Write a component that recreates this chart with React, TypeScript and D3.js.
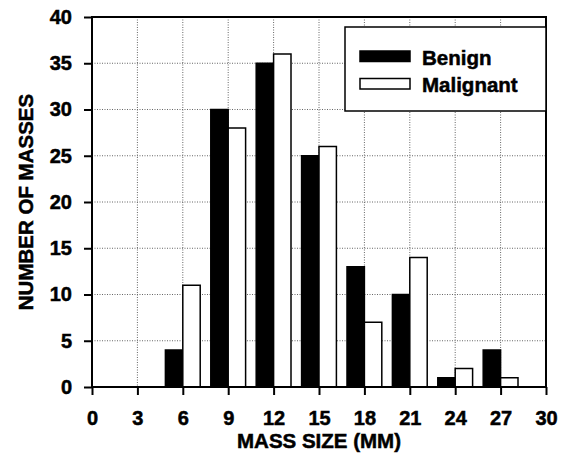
import React, { useEffect, useRef } from "react";
import * as d3 from "d3";

const sizes = [3, 6, 9, 12, 15, 18, 21, 24, 27];
const benign = [0, 4, 30, 35, 25, 13, 10, 1, 4];
const malignant = [0, 11, 28, 36, 26, 7, 14, 2, 1];
const xTicks = [0, 3, 6, 9, 12, 15, 18, 21, 24, 27, 30];
const yTicks = [0, 5, 10, 15, 20, 25, 30, 35, 40];
const seriesNames = ["Benign", "Malignant"];

const FONT = "'Liberation Sans', Arial, Helvetica, sans-serif";

const App = () => {
  const ref = useRef<SVGSVGElement | null>(null);

  useEffect(() => {
    const svg = d3.select(ref.current);
    svg.selectAll("*").remove();

    const left = 92, right = 546, top = 17, bottom = 387;
    const x = d3.scaleLinear().domain([0, 30]).range([left, right]);
    const y = d3.scaleLinear().domain([0, 40]).range([bottom, top]);
    const bw = x(1.15) - x(0);

    // helper for the heavy bold labels
    const bold = (sel: any, size: number) =>
      sel
        .attr("font-family", FONT)
        .attr("font-weight", "bold")
        .attr("font-size", size)
        .attr("fill", "#000")
        .attr("stroke", "#000")
        .attr("stroke-width", 0.5);

    // grid
    const grid = svg.append("g")
      .attr("stroke", "#666")
      .attr("stroke-width", 1)
      .attr("stroke-dasharray", "1,1.5");
    grid.selectAll("line.v")
      .data(xTicks.filter((d) => d > 0 && d < 30))
      .enter().append("line")
      .attr("x1", (d) => x(d)).attr("x2", (d) => x(d))
      .attr("y1", top).attr("y2", bottom);
    grid.selectAll("line.h")
      .data(yTicks.filter((d) => d > 0 && d < 40))
      .enter().append("line")
      .attr("x1", left).attr("x2", right)
      .attr("y1", (d) => y(d)).attr("y2", (d) => y(d));

    // bars
    const bars = svg.append("g").attr("stroke", "#000").attr("stroke-width", 1.5);
    bars.selectAll("rect.b")
      .data(sizes.map((s, i) => ({ s, v: benign[i] })))
      .enter().append("rect")
      .attr("x", (d) => x(d.s) - bw)
      .attr("y", (d) => y(d.v))
      .attr("width", bw)
      .attr("height", (d) => y(0) - y(d.v))
      .attr("fill", "#000");
    bars.selectAll("rect.m")
      .data(sizes.map((s, i) => ({ s, v: malignant[i] })))
      .enter().append("rect")
      .attr("x", (d) => x(d.s))
      .attr("y", (d) => y(d.v))
      .attr("width", bw)
      .attr("height", (d) => y(0) - y(d.v))
      .attr("fill", "#fff");

    // frame
    svg.append("rect")
      .attr("x", left).attr("y", top)
      .attr("width", right - left).attr("height", bottom - top)
      .attr("fill", "none").attr("stroke", "#000").attr("stroke-width", 2);

    // axes
    const yAxis = svg.append("g")
      .attr("transform", `translate(${left},0)`)
      .call(d3.axisLeft(y).tickValues(yTicks).tickSize(8).tickPadding(12));
    const xAxis = svg.append("g")
      .attr("transform", `translate(0,${bottom})`)
      .call(d3.axisBottom(x).tickValues(xTicks).tickSize(8).tickPadding(17));
    [yAxis, xAxis].forEach((a) => {
      a.select(".domain").remove();
      a.selectAll("line").attr("stroke", "#000").attr("stroke-width", 2);
      bold(a.selectAll("text"), 20);
    });
    xAxis.selectAll("text").attr("dy", null).attr("y", 37.5);

    // axis titles
    bold(svg.append("text"), 20.5)
      .attr("x", (left + right) / 2)
      .attr("y", 447.5)
      .attr("text-anchor", "middle")
      .text("MASS SIZE (MM)");
    bold(svg.append("text"), 20.5)
      .attr("transform", `translate(33,${(top + bottom) / 2}) rotate(-90)`)
      .attr("text-anchor", "middle")
      .text("NUMBER OF MASSES");

    // legend
    const lg = svg.append("g");
    lg.append("rect")
      .attr("x", 345).attr("y", 27)
      .attr("width", right - 345).attr("height", 84)
      .attr("fill", "#fff").attr("stroke", "#000").attr("stroke-width", 1.5);
    seriesNames.forEach((name, i) => {
      const yy = 51 + i * 27.5;
      lg.append("rect")
        .attr("x", 360).attr("y", yy)
        .attr("width", 50).attr("height", 10.5)
        .attr("fill", i === 0 ? "#000" : "#fff")
        .attr("stroke", "#000").attr("stroke-width", 1.5);
      bold(lg.append("text"), 20.5)
        .attr("x", 422).attr("y", yy + 13.5)
        .text(name);
    });
  }, []);

  return (
    <svg
      ref={ref}
      width={566}
      height={456}
      style={{ position: "absolute", left: 0, top: 0, background: "#fff" }}
    />
  );
};

export default App;
